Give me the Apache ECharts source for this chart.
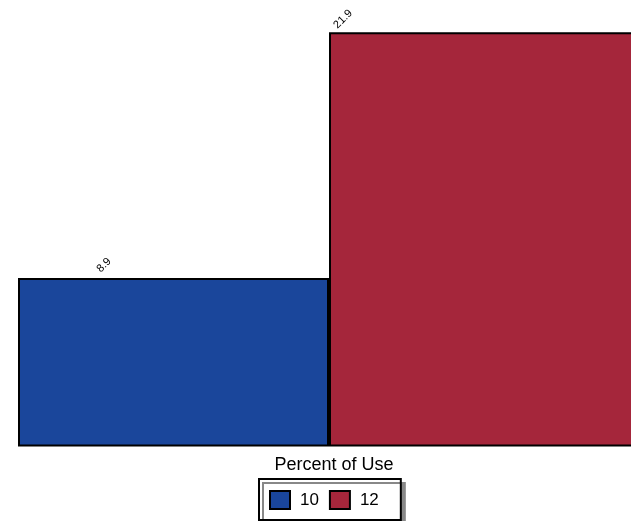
<!DOCTYPE html>
<html>
<head>
<meta charset="utf-8">
<script src="https://cdn.jsdelivr.net/npm/echarts@6/dist/echarts.min.js"></script>
<style>html,body{margin:0;padding:0;background:#fff}#c{width:631px;height:521px}</style>
</head>
<body>
<div id="c"></div>
<script>
var categories = ['10', '12'];
var seriesNames = ['10', '12'];
var values10 = [8.9, '-'];
var values12 = ['-', 21.9];
var legendTitle = 'Percent of Use';

var chart = echarts.init(document.getElementById('c'), null, {renderer: 'canvas'});
var font = '"Liberation Sans", Arial, sans-serif';
function lbl(pos) {
  return {
    show: true, position: pos, rotate: 45, align: 'center', verticalAlign: 'middle',
    fontSize: 11, color: '#000', fontFamily: font,
    formatter: function (p) { return p.value.toFixed(1); }
  };
}
chart.setOption({
  animation: false,
  grid: {left: 18, top: 0, width: 622, height: 446.5, outerBoundsMode: 'none', containLabel: false},
  xAxis: {type: 'category', data: categories, show: false},
  yAxis: {type: 'value', min: 0, max: 23.6, show: false},
  title: {
    text: legendTitle, left: 329, top: 451, textAlign: 'center',
    textStyle: {fontSize: 18, fontWeight: 'normal', color: '#000', fontFamily: font}
  },
  legend: {
    data: seriesNames, left: 259, top: 479, orient: 'horizontal',
    icon: 'rect',
    itemWidth: 20, itemHeight: 18, itemGap: 10,
    padding: [11, 22, 10, 10],
    backgroundColor: '#fff', borderColor: '#000', borderWidth: 2,
    shadowColor: '#888', shadowBlur: 0, shadowOffsetX: 4, shadowOffsetY: 4,
    textStyle: {fontSize: 17, color: '#000', fontFamily: font, padding: [0, 0, 0, 5]},
    selectedMode: false
  },
  series: [
    {
      name: seriesNames[0], type: 'bar', stack: 's', data: values10,
      barWidth: '100%', barCategoryGap: '0%',
      itemStyle: {color: '#1a469b', borderColor: '#000', borderWidth: 2},
      label: lbl([86, -13])
    },
    {
      name: seriesNames[1], type: 'bar', stack: 's', data: values12,
      barWidth: '100%', barCategoryGap: '0%',
      itemStyle: {color: '#a5263b', borderColor: '#000', borderWidth: 2},
      label: lbl([14, -13])
    }
  ]
});
</script>
</body>
</html>
